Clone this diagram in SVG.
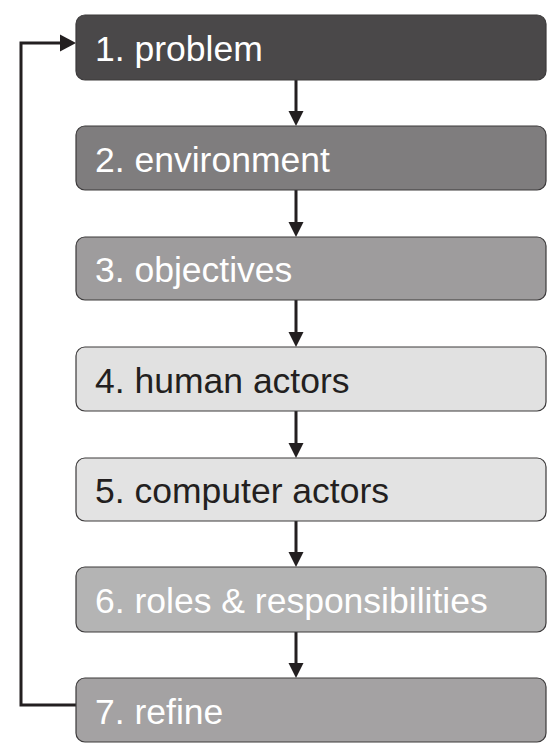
<svg xmlns="http://www.w3.org/2000/svg" width="554" height="753" viewBox="0 0 554 753">
<style>
.box{stroke:#3c3a3b;stroke-width:1.2}
.t{font-family:"Liberation Sans",Arial,sans-serif;font-size:35.5px}
.w{fill:#ffffff}
.d{fill:#231f20}
.ln{stroke:#231f20;stroke-width:3;fill:none}
.ah{fill:#231f20}
</style>
<rect width="554" height="753" fill="#ffffff"/>
<g id="connectors">
<line class="ln" x1="296" y1="80" x2="296" y2="112"/><polygon class="ah" points="288.5,111 303.5,111 296,126"/>
<line class="ln" x1="296" y1="190" x2="296" y2="223"/><polygon class="ah" points="288.5,222 303.5,222 296,237"/>
<line class="ln" x1="296" y1="300" x2="296" y2="333"/><polygon class="ah" points="288.5,332 303.5,332 296,347"/>
<line class="ln" x1="296" y1="411" x2="296" y2="444"/><polygon class="ah" points="288.5,443 303.5,443 296,458"/>
<line class="ln" x1="296" y1="521" x2="296" y2="553"/><polygon class="ah" points="288.5,552 303.5,552 296,567"/>
<line class="ln" x1="296" y1="632" x2="296" y2="664"/><polygon class="ah" points="288.5,663 303.5,663 296,678"/>
<polyline class="ln" points="76,705 21,705 21,43 62,43"/><polygon class="ah" points="60,34.5 76,43 60,51.5"/>
</g>
<g id="n1"><rect class="box" x="76" y="15" width="470" height="65" rx="9" fill="#4a4849"/><text class="t w" x="95" y="61">1. problem</text></g>
<g id="n2"><rect class="box" x="76" y="126" width="470" height="64" rx="9" fill="#7f7d7e"/><text class="t w" x="95" y="172">2. environment</text></g>
<g id="n3"><rect class="box" x="76" y="237" width="470" height="63" rx="9" fill="#9e9c9d"/><text class="t w" x="95" y="282">3. objectives</text></g>
<g id="n4"><rect class="box" x="76" y="347" width="470" height="64" rx="9" fill="#e1e1e1"/><text class="t d" x="95" y="393">4. human actors</text></g>
<g id="n5"><rect class="box" x="76" y="458" width="470" height="63" rx="9" fill="#e3e3e3"/><text class="t d" x="95" y="503">5. computer actors</text></g>
<g id="n6"><rect class="box" x="76" y="567" width="470" height="65" rx="9" fill="#b4b4b4"/><text class="t w" x="95" y="613">6. roles &amp; responsibilities</text></g>
<g id="n7"><rect class="box" x="76" y="678" width="470" height="64" rx="9" fill="#a4a2a3"/><text class="t w" x="95" y="724">7. refine</text></g>
</svg>
